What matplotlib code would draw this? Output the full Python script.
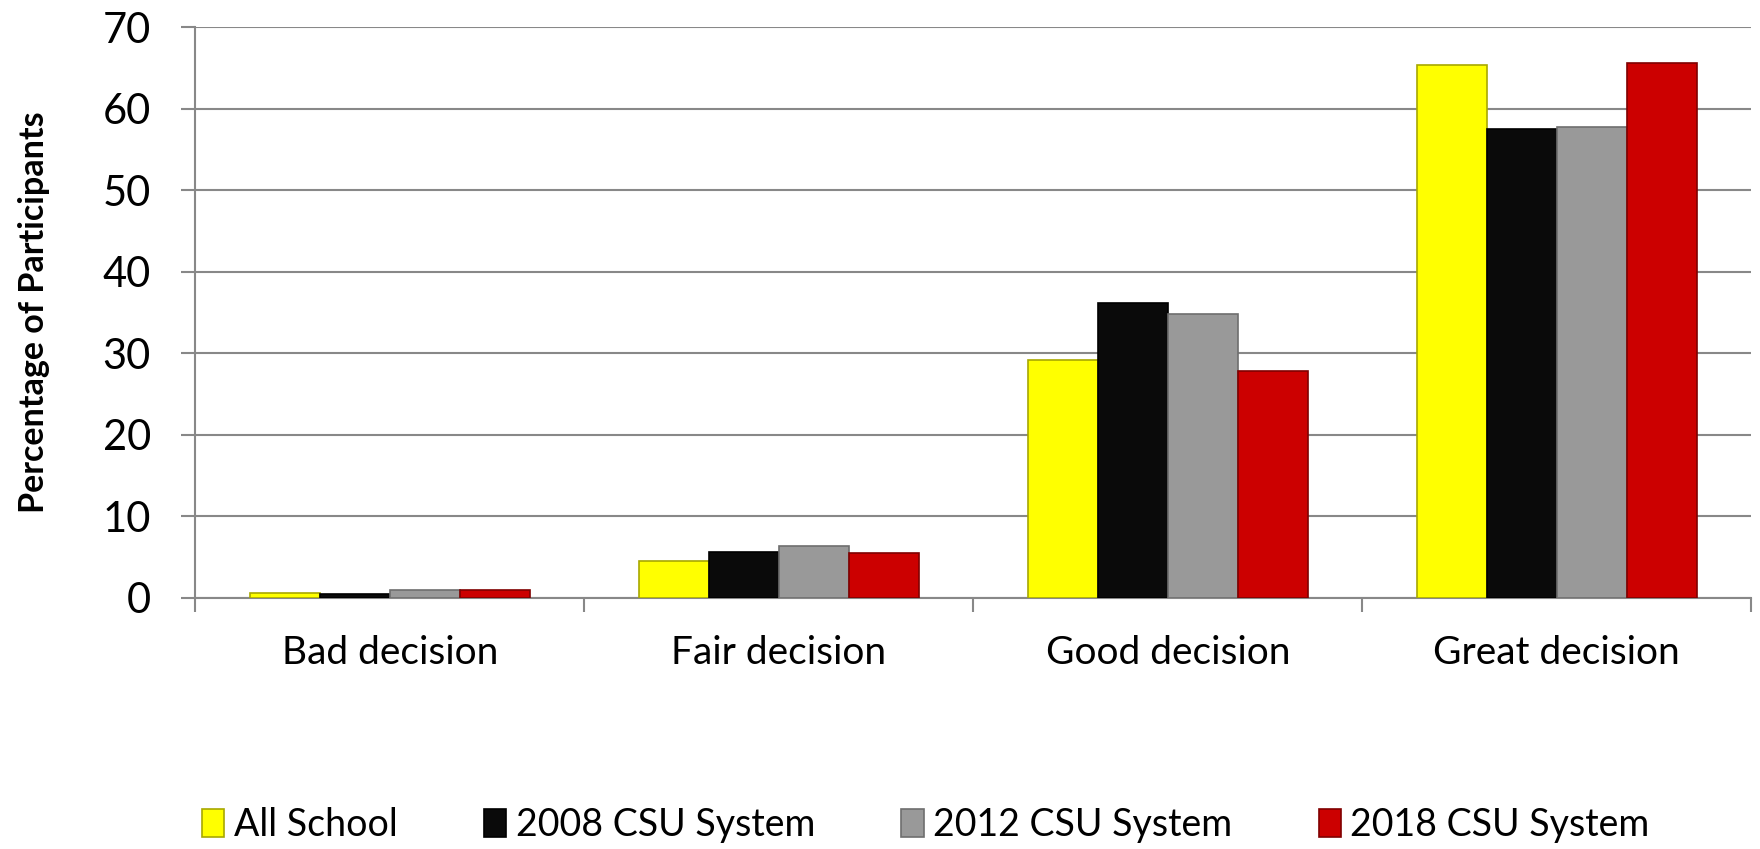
import matplotlib.pyplot as plt
import numpy as np

plt.rcParams['font.family'] = ['Lato', 'DejaVu Sans']

categories = ['Bad decision', 'Fair decision', 'Good decision', 'Great decision']
series_names = ['All School', '2008 CSU System', '2012 CSU System', '2018 CSU System']
all_school = [0.6, 4.5, 29.2, 65.4]
csu_2008 = [0.4, 5.6, 36.2, 57.5]
csu_2012 = [0.9, 6.3, 34.8, 57.7]
csu_2018 = [0.9, 5.5, 27.8, 65.6]

values = [all_school, csu_2008, csu_2012, csu_2018]
colors = ['#ffff00', '#0a0a0a', '#999999', '#cc0000']
edges = ['#a8a800', '#000000', '#6e6e6e', '#800000']

fig = plt.figure(figsize=(17.6, 8.49), dpi=100)
ax = fig.add_axes([0.111, 0.296, 0.884, 0.672])

x = np.arange(len(categories))
width = 0.18
for i, (vals, c, e, name) in enumerate(zip(values, colors, edges, series_names)):
    ax.bar(x + (i - 1.5) * width, vals, width, color=c, edgecolor=e,
           linewidth=1.2, label=name, zorder=3)

ax.set_xlim(-0.5, len(categories) - 0.5)
ax.set_ylim(0, 70)
ax.set_yticks(range(0, 71, 10))
ax.tick_params(axis='y', labelsize=30, length=10, width=1.5, color='#888888', pad=22)
ax.set_xticks(x)
ax.set_xticklabels(categories)
ax.tick_params(axis='x', labelsize=28, length=0, pad=27)
ax.set_xticks(np.arange(-0.5, len(categories)), minor=True)
ax.tick_params(axis='x', which='minor', length=10, width=1.5, color='#888888')

ax.grid(axis='y', color='#888888', linewidth=1.5, zorder=0)
for s in ['top', 'right']:
    ax.spines[s].set_visible(False)
for s in ['left', 'bottom']:
    ax.spines[s].set_color('#888888')
    ax.spines[s].set_linewidth(1.5)

ax.set_ylabel('Percentage of Participants', fontsize=24.5, fontweight='bold', labelpad=38)

fig.legend(loc='lower center', bbox_to_anchor=(0.526, -0.033), ncol=4, frameon=False,
           fontsize=27, handlelength=0.6, handleheight=0.75, handletextpad=0.25,
           columnspacing=2.3)

fig.savefig('out.png', dpi=100)
